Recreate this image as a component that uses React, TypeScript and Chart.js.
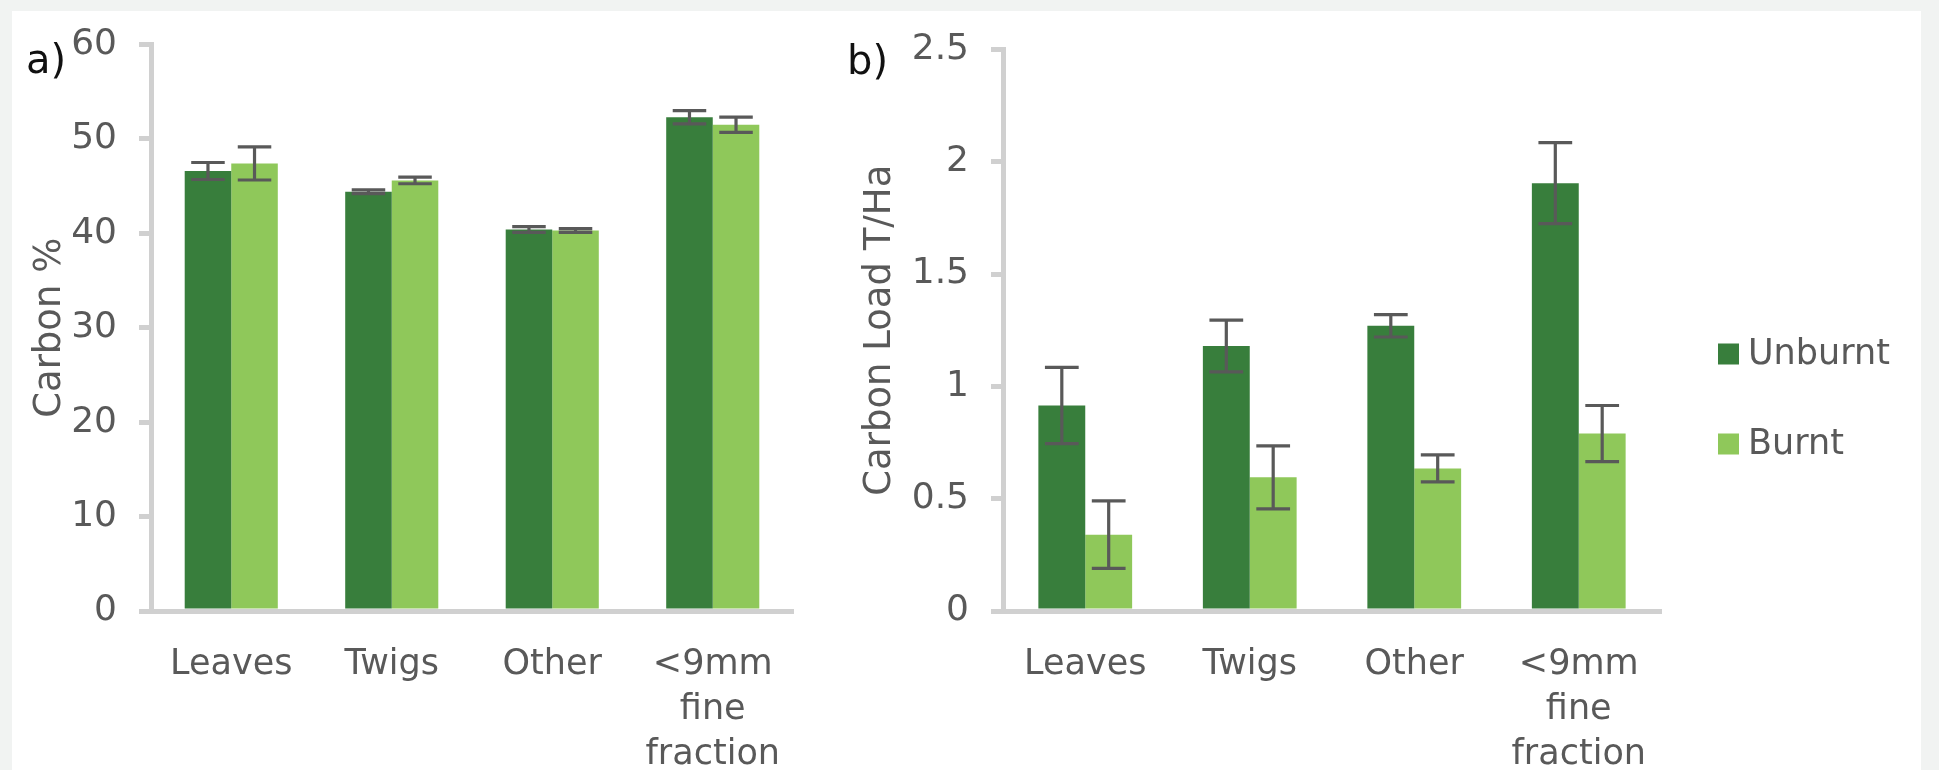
import React, { useEffect, useRef } from 'react';
import { Chart, registerables } from 'chart.js';

Chart.register(...registerables);

// ---------- data ----------
const categories: (string | string[])[] = ['Leaves', 'Twigs', 'Other', ['<9mm', 'fine', 'fraction']];
const seriesNames = ['Unburnt', 'Burnt'];

const carbonPctUnburnt = [46.6, 44.4, 40.4, 52.3];
const carbonPctUnburntErr = [0.9, 0.2, 0.3, 0.7];
const carbonPctBurnt = [47.4, 45.6, 40.3, 51.5];
const carbonPctBurntErr = [1.75, 0.35, 0.2, 0.8];

const carbonLoadUnburnt = [0.915, 1.18, 1.27, 1.905];
const carbonLoadUnburntErr = [0.17, 0.115, 0.05, 0.18];
const carbonLoadBurnt = [0.34, 0.595, 0.635, 0.79];
const carbonLoadBurntErr = [0.15, 0.14, 0.06, 0.125];

const pctAxis = { min: 0, max: 60, step: 10, title: 'Carbon %' };
const loadAxis = { min: 0, max: 2.5, step: 0.5, title: 'Carbon Load T/Ha' };

// ---------- styles ----------
const FONT = "'DejaVu Sans', sans-serif";
const DARK = '#387e3c';
const LIGHT = '#8fc85a';
const TEXT = '#595959';
const AXIS = '#d0d0d0';
const ERR = '#595959';

const errorBarPlugin = {
  id: 'errorBars',
  afterDatasetsDraw(chart: any) {
    const ctx = chart.ctx;
    const y = chart.scales.y;
    chart.data.datasets.forEach((ds: any, i: number) => {
      const meta = chart.getDatasetMeta(i);
      meta.data.forEach((bar: any, j: number) => {
        const v = ds.data[j];
        const e = ds.errors[j];
        const yTop = y.getPixelForValue(v + e);
        const yBot = y.getPixelForValue(v - e);
        const half = bar.width * 0.36;
        ctx.save();
        ctx.strokeStyle = ERR;
        ctx.lineWidth = 3.2;
        ctx.beginPath();
        ctx.moveTo(bar.x, yTop);
        ctx.lineTo(bar.x, yBot);
        ctx.moveTo(bar.x - half, yTop);
        ctx.lineTo(bar.x + half, yTop);
        ctx.moveTo(bar.x - half, yBot);
        ctx.lineTo(bar.x + half, yBot);
        ctx.stroke();
        ctx.restore();
      });
    });
  },
};

const panelLabelPlugin = {
  id: 'panelLabel',
  afterDraw(chart: any, _args: any, opts: any) {
    if (!opts || !opts.text) return;
    const ctx = chart.ctx;
    ctx.save();
    ctx.fillStyle = '#111';
    ctx.font = `${opts.size}px ${FONT}`;
    ctx.textBaseline = 'alphabetic';
    ctx.textAlign = 'left';
    ctx.fillText(opts.text, opts.x, opts.y);
    ctx.restore();
  },
};

const sideLegendPlugin = {
  id: 'sideLegend',
  afterDraw(chart: any, _args: any, opts: any) {
    if (!opts || !opts.show) return;
    const ctx = chart.ctx;
    ctx.save();
    ctx.font = `${opts.size}px ${FONT}`;
    ctx.textBaseline = 'middle';
    ctx.textAlign = 'left';
    chart.data.datasets.forEach((ds: any, i: number) => {
      const cy = opts.y + i * opts.gap;
      ctx.fillStyle = ds.backgroundColor;
      ctx.fillRect(opts.x, cy - opts.box / 2, opts.box, opts.box);
      ctx.fillStyle = TEXT;
      ctx.fillText(ds.label, opts.x + opts.box + 9, cy + 1);
    });
    ctx.restore();
  },
};

function makeConfig(
  unb: number[], unbErr: number[], brn: number[], brnErr: number[],
  axis: { min: number; max: number; step: number; title: string },
  layout: { top: number; right: number; yWidth: number; xHeight: number; titlePad: number; pct: number },
  label: any, legend: any,
): any {
  return {
    type: 'bar',
    data: {
      labels: categories,
      datasets: [
        { label: seriesNames[0], data: unb, errors: unbErr, backgroundColor: DARK, borderWidth: 0 },
        { label: seriesNames[1], data: brn, errors: brnErr, backgroundColor: LIGHT, borderWidth: 0 },
      ],
    },
    options: {
      responsive: false,
      animation: false,
      devicePixelRatio: 1,
      datasets: { bar: { categoryPercentage: layout.pct, barPercentage: 1.0 } },
      layout: { padding: { left: 0, top: layout.top, right: layout.right, bottom: 0 } },
      plugins: {
        legend: { display: false },
        tooltip: { enabled: false },
        panelLabel: label,
        sideLegend: legend,
      },
      scales: {
        x: {
          grid: { display: false },
          border: { display: true, color: AXIS, width: 5 },
          ticks: {
            color: TEXT,
            padding: 23,
            maxRotation: 0,
            autoSkip: false,
            font: { family: FONT, size: 35, lineHeight: 1.286 },
          },
          afterFit(scale: any) {
            scale.height = layout.xHeight;
            scale.paddingLeft = 0;
            scale.paddingRight = 0;
          },
        },
        y: {
          min: axis.min,
          max: axis.max,
          grid: { display: true, drawOnChartArea: false, drawTicks: true, tickLength: 12, color: AXIS, lineWidth: 5 },
          border: { display: true, color: AXIS, width: 5 },
          ticks: {
            stepSize: axis.step,
            color: TEXT,
            padding: 22,
            font: { family: FONT, size: 36 },
            callback: (v: any) => String(Number(v)),
          },
          title: {
            display: true,
            text: axis.title,
            color: TEXT,
            font: { family: FONT, size: 37 },
            padding: { top: layout.titlePad, bottom: 0 },
          },
          afterFit(scale: any) {
            scale.width = layout.yWidth;
          },
        },
      },
    },
    plugins: [errorBarPlugin, panelLabelPlugin, sideLegendPlugin],
  };
}

export default function App() {
  const refA = useRef<HTMLCanvasElement | null>(null);
  const refB = useRef<HTMLCanvasElement | null>(null);

  useEffect(() => {
    const chartA = new Chart(
      refA.current as HTMLCanvasElement,
      makeConfig(
        carbonPctUnburnt, carbonPctUnburntErr, carbonPctBurnt, carbonPctBurntErr,
        pctAxis,
        { top: 44.5, right: 7, yWidth: 151, xHeight: 159, titlePad: 28, pct: 0.58 },
        { text: 'a)', x: 26, y: 73, size: 40 },
        { show: false },
      ),
    );
    const chartB = new Chart(
      refB.current as HTMLCanvasElement,
      makeConfig(
        carbonLoadUnburnt, carbonLoadUnburntErr, carbonLoadBurnt, carbonLoadBurntErr,
        loadAxis,
        { top: 49.5, right: 278, yWidth: 203, xHeight: 159, titlePad: 58, pct: 0.57 },
        { text: 'b)', x: 47, y: 74, size: 40 },
        { show: true, x: 918, y: 354, gap: 90, box: 21, size: 35 },
      ),
    );
    return () => {
      chartA.destroy();
      chartB.destroy();
    };
  }, []);

  return (
    <div
      style={{
        position: 'absolute',
        left: 0,
        top: 0,
        width: 1939,
        height: 770,
        background: '#f1f3f2',
        overflow: 'hidden',
      }}
    >
      <div style={{ position: 'absolute', left: 12, top: 11, width: 1909, height: 800, background: '#ffffff' }} />
      <canvas ref={refA} width={800} height={770} style={{ position: 'absolute', left: 0, top: 0, display: 'block' }} />
      <canvas ref={refB} width={1139} height={770} style={{ position: 'absolute', left: 800, top: 0, display: 'block' }} />
    </div>
  );
}
